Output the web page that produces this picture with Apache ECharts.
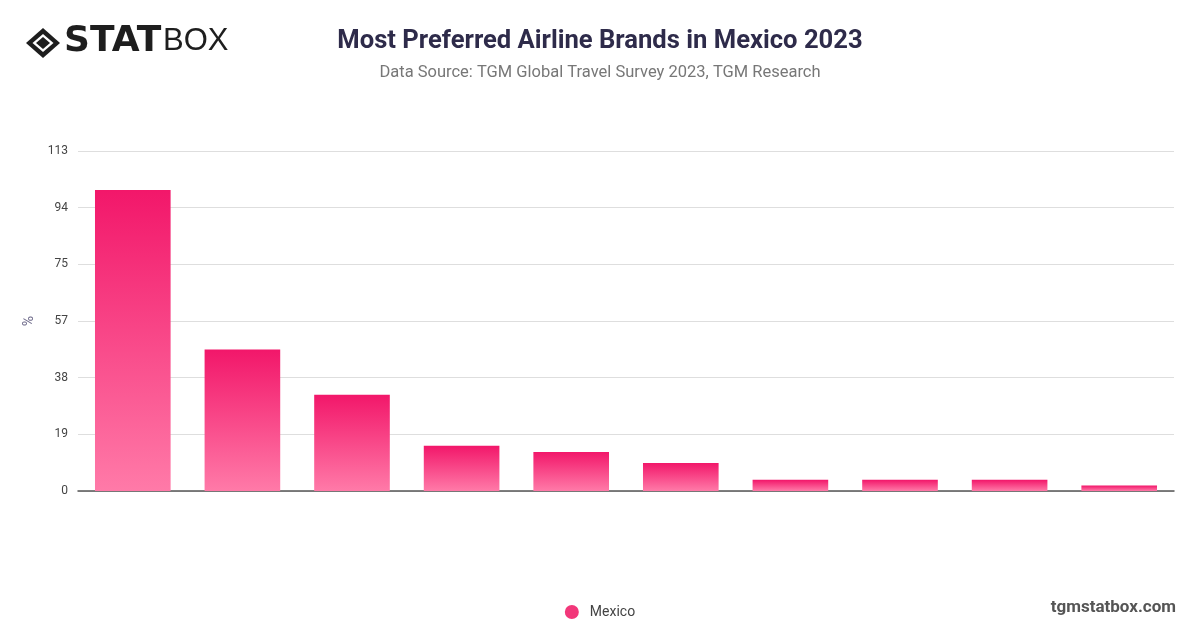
<!DOCTYPE html>
<html><head><meta charset="utf-8">
<script src="https://cdn.jsdelivr.net/npm/echarts@6/dist/echarts.min.js"></script>
<style>html,body{margin:0;padding:0;background:#fff}#c{width:1200px;height:628px}</style>
</head><body><div id="c"></div>
<script>
const categories = ["Aeroméxico","Volaris","Viva Aerobus","American Airlines","United Airlines","Delta Air Lines","Copa Airlines","Iberia","Avianca","Other"];
const seriesName = "Mexico";
const values = [100, 47, 32, 15, 13, 9.3, 3.7, 3.7, 3.7, 1.8];
const yMin = 0, yMax = 113;
const yTickCount = 6;

const chart = echarts.init(document.getElementById('c'), null, {renderer:'canvas'});
const grad = new echarts.graphic.LinearGradient(0,0,0,1,[{offset:0,color:'#f2176a'},{offset:1,color:'#ff7aa8'}]);
chart.setOption({
  animation:false,
  title:[
    {text:'Most Preferred Airline Brands in Mexico 2023', left:595, top:24, textAlign:'center',
     textStyle:{fontFamily:'Roboto, "Open Sans", sans-serif', fontSize:25.6, fontWeight:'bold', color:'#2e2b4a'}},
    {text:'Data Source: TGM Global Travel Survey 2023, TGM Research', left:595, top:59, textAlign:'center',
     textStyle:{fontFamily:'Roboto, "Open Sans", sans-serif', fontSize:16.5, fontWeight:'normal', color:'#777'}}
  ],
  legend:{bottom:4, left:'center', icon:'circle', itemWidth:14, itemHeight:14,
    textStyle:{fontFamily:'Roboto, sans-serif', fontSize:14, color:'#444', padding:[0,0,0,6]}, data:[{name:seriesName, itemStyle:{color:'#f2377a'}}]},
  grid:{left:78, right:26, top:151, bottom:137, containLabel:false},
  xAxis:{type:'category', data:categories, axisTick:{show:false}, axisLabel:{show:false},
    axisLine:{lineStyle:{color:'#555', width:1.5}}},
  yAxis:{type:'value', min:yMin, max:yMax, interval:(yMax-yMin)/yTickCount, name:'%', nameLocation:'middle', nameGap:42,
    nameTextStyle:{color:'#6e6a8a', fontSize:14, fontFamily:'Roboto, sans-serif'},
    axisLabel:{formatter:v=>Math.round(v), color:'#444', fontSize:12, fontFamily:'Roboto, sans-serif', margin:10},
    axisLine:{show:false}, axisTick:{show:false},
    splitLine:{lineStyle:{color:'#dedede'}}},
  series:[{name:seriesName, type:'bar', data:values, barWidth:'69%', itemStyle:{color:grad}}],
  graphic:[
    {type:'group', left:26, top:24, children:[
      {type:'polygon', shape:{points:[[17,0],[34,15],[17,30],[0,15]]}, style:{fill:'#1e1e1e'}},
      {type:'polygon', shape:{points:[[17,6],[27.5,15],[17,24],[6.5,15]]}, style:{fill:'#fff'}},
      {type:'polygon', shape:{points:[[17,9],[24,15],[17,21],[10,15]]}, style:{fill:'#1e1e1e'}},
      {type:'text', x:38, y:-4, style:{text:'STAT', font:'900 36px "DejaVu Sans", sans-serif', fill:'#1e1e1e'}},
      {type:'text', x:137, y:-2, style:{text:'BOX', font:'normal 31px "Liberation Sans", sans-serif', fill:'#1e1e1e'}}
    ]},
    {type:'text', right:24, top:599, style:{text:'tgmstatbox.com', font:'bold 17px Roboto, sans-serif', fill:'#555'}}
  ]
});
</script></body></html>
